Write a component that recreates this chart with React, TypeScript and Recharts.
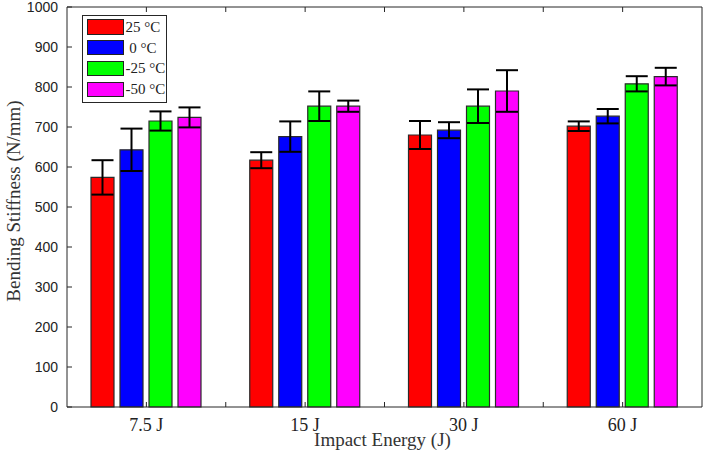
import React from 'react';
import { BarChart, Bar, XAxis, YAxis, ErrorBar, Legend } from 'recharts';

const categories = ['7.5 J', '15 J', '30 J', '60 J'];
const tempLabels = ['25 °C', ' 0 °C', '-25 °C', '-50 °C'];
const stiff25 = [574, 617, 680, 702];
const stiff0 = [643, 676, 692, 727];
const stiffM25 = [715, 752, 752, 808];
const stiffM50 = [724, 752, 790, 826];
const err25 = [43, 20, 35, 12];
const err0 = [53, 38, 20, 18];
const errM25 = [24, 37, 42, 19];
const errM50 = [25, 14, 52, 22];
const yTicks = [0, 100, 200, 300, 400, 500, 600, 700, 800, 900, 1000];

const colors = ['#ff0000', '#0000ff', '#00ff00', '#ff00ff'];
const seriesKeys = ['s0', 's1', 's2', 's3'];
const errKeys = ['e0', 'e1', 'e2', 'e3'];

const data = categories.map((c, i) => ({
  energy: c,
  s0: stiff25[i],
  s1: stiff0[i],
  s2: stiffM25[i],
  s3: stiffM50[i],
  e0: err25[i],
  e1: err0[i],
  e2: errM25[i],
  e3: errM50[i],
}));

const SERIF = "'Liberation Serif', 'Times New Roman', serif";
const SANS = "'Liberation Sans', Arial, sans-serif";
const AXIS = '#262626';

const LeftTick = (props: any) => {
  const { x, y, payload } = props;
  return (
    <g>
      <line x1={x} x2={x + 5} y1={y} y2={y} stroke={AXIS} strokeWidth={1} />
      <text x={x - 9} y={y} dy={5} textAnchor="end" fontFamily={SANS} fontSize={14} fill="#222">
        {payload.value}
      </text>
    </g>
  );
};

const RightTick = (props: any) => {
  const { x, y } = props;
  return (
    <g>
      <line x1={x} x2={x - 5} y1={y} y2={y} stroke={AXIS} strokeWidth={1} />
    </g>
  );
};

const halfBand = (props: any) => {
  const off = props?.payload?.offset;
  if (typeof off === 'number' && off > 0) return off;
  return 79.4;
};

const BottomTick = (props: any) => {
  const { x, y, payload, index, visibleTicksCount } = props;
  const hb = halfBand(props);
  const last = index >= (visibleTicksCount ?? 4) - 1;
  return (
    <g>
      <line x1={x} x2={x} y1={y} y2={y - 5} stroke={AXIS} strokeWidth={1} />
      {!last && <line x1={x + hb} x2={x + hb} y1={y} y2={y - 5} stroke={AXIS} strokeWidth={1} />}
      <text x={x} y={y + 24} textAnchor="middle" fontFamily={SERIF} fontSize={18} fill="#222">
        {payload.value}
      </text>
    </g>
  );
};

const TopTick = (props: any) => {
  const { x, y, index, visibleTicksCount } = props;
  const hb = halfBand(props);
  const last = index >= (visibleTicksCount ?? 4) - 1;
  return (
    <g>
      <line x1={x} x2={x} y1={y} y2={y + 5} stroke={AXIS} strokeWidth={1} />
      {!last && <line x1={x + hb} x2={x + hb} y1={y} y2={y + 5} stroke={AXIS} strokeWidth={1} />}
    </g>
  );
};

const LegendBox = () => (
  <div
    style={{
      width: 85,
      height: 88,
      boxSizing: 'border-box',
      border: '1.5px solid #262626',
      background: '#fff',
      paddingTop: 1,
      paddingLeft: 3.5,
      fontFamily: SERIF,
      fontSize: 15,
      color: '#222',
    }}
  >
    {tempLabels.map((t, i) => (
      <div key={t} style={{ display: 'flex', alignItems: 'center', height: 20.8 }}>
        <span
          style={{
            display: 'inline-block',
            width: 37,
            height: 15.5,
            background: colors[i],
            border: '1.2px solid #222',
            boxSizing: 'border-box',
            flexShrink: 0,
          }}
        />
        <span style={{ marginLeft: 2, whiteSpace: 'pre', lineHeight: '16px' }}>{t}</span>
      </div>
    ))}
  </div>
);

export default function App() {
  return (
    <div style={{ position: 'absolute', left: 0, top: 0, width: 706, height: 452, background: '#fff' }}>
      <BarChart
        width={706}
        height={452}
        data={data}
        margin={{ top: 6, right: 3, bottom: 0, left: 0 }}
        barCategoryGap={24}
        barGap={6}
      >
        <XAxis
          xAxisId="cat"
          dataKey="energy"
          height={45}
          interval={0}
          tickSize={0}
          tickMargin={0}
          tickLine={false}
          axisLine={{ stroke: AXIS, strokeWidth: 1 }}
          tick={<BottomTick />}
          label={(p: any) => {
            const vb = p.viewBox || { x: 67, y: 407, width: 635, height: 45 };
            return (
              <text
                x={vb.x + vb.width / 2 - 2}
                y={vb.y + 39}
                textAnchor="middle"
                fontFamily={SERIF}
                fontSize={19}
                fill="#333"
              >
                Impact Energy (J)
              </text>
            );
          }}
        />
        <XAxis
          xAxisId="top"
          dataKey="energy"
          orientation="top"
          height={1}
          interval={0}
          tickSize={0}
          tickMargin={0}
          tickLine={false}
          axisLine={{ stroke: AXIS, strokeWidth: 1 }}
          tick={<TopTick />}
        />
        <YAxis
          yAxisId="left"
          width={67}
          domain={[0, 1000]}
          ticks={yTicks}
          interval={0}
          tickSize={0}
          tickMargin={0}
          tickLine={false}
          axisLine={{ stroke: AXIS, strokeWidth: 1 }}
          tick={<LeftTick />}
          label={(p: any) => {
            const vb = p.viewBox || { x: 0, y: 7, width: 67, height: 400 };
            const cx = vb.x + 20;
            const cy = vb.y + vb.height / 2 - 6;
            return (
              <text
                x={cx}
                y={cy}
                transform={`rotate(-90, ${cx}, ${cy})`}
                textAnchor="middle"
                fontFamily={SERIF}
                fontSize={19}
                fill="#333"
              >
                Bending Stiffness (N/mm)
              </text>
            );
          }}
        />
        <YAxis
          yAxisId="right"
          orientation="right"
          width={1}
          domain={[0, 1000]}
          ticks={yTicks}
          interval={0}
          tickSize={0}
          tickMargin={0}
          tickLine={false}
          axisLine={{ stroke: AXIS, strokeWidth: 1 }}
          tick={<RightTick />}
        />
        <Legend
          layout="vertical"
          align="center"
          verticalAlign="middle"
          wrapperStyle={{ position: 'absolute', left: 82, top: 14.5, width: 85, height: 88 }}
          content={() => <LegendBox />}
        />
        {seriesKeys.map((k, i) => (
          <Bar
            key={k}
            dataKey={k}
            name={tempLabels[i]}
            xAxisId="cat"
            yAxisId="left"
            fill={colors[i]}
            stroke="#2a2a2a"
            strokeWidth={1.2}
            isAnimationActive={false}
          >
            <ErrorBar
              dataKey={errKeys[i]}
              width={11}
              stroke="#000"
              strokeWidth={2}
              direction="y"
              isAnimationActive={false}
            />
          </Bar>
        ))}
      </BarChart>
    </div>
  );
}
